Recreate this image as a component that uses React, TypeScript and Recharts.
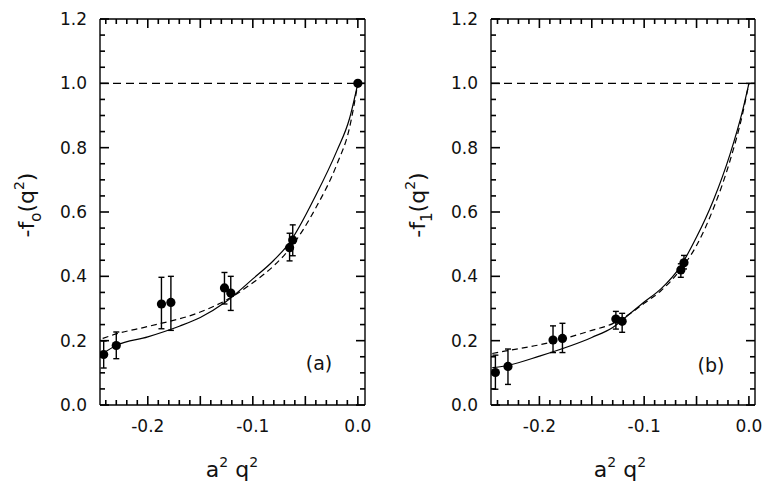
import React from "react";
import {
    ComposedChart,
    Line,
    Scatter,
    ErrorBar,
    XAxis,
    YAxis,
    ReferenceLine,
} from "recharts";

// measured points (shared a^2 q^2 values)
const qx = [-0.242, -0.23, -0.187, -0.178, -0.127, -0.121, -0.065, -0.062];

// panel (a): -f0(q^2), last point is the q^2 = 0 normalisation
const f0X = [...qx, 0];
const f0 = [0.157, 0.185, 0.314, 0.319, 0.364, 0.348, 0.489, 0.513, 1.0];
const f0Lo = [0.115, 0.144, 0.237, 0.232, 0.314, 0.294, 0.448, 0.464, 1.0];
const f0Hi = [0.199, 0.227, 0.397, 0.4, 0.412, 0.4, 0.534, 0.56, 1.0];

// panel (b): -f1(q^2)
const f1 = [0.101, 0.12, 0.202, 0.207, 0.267, 0.26, 0.42, 0.442];
const f1Lo = [0.049, 0.064, 0.163, 0.163, 0.236, 0.226, 0.397, 0.423];
const f1Hi = [0.155, 0.174, 0.246, 0.254, 0.291, 0.285, 0.439, 0.465];

// fit curves
const aSolidX = [-0.243, -0.23, -0.2, -0.17, -0.15, -0.126, -0.1, -0.08, -0.065, -0.04, -0.02, -0.008, 0];
const aSolidY = [0.16, 0.185, 0.212, 0.245, 0.272, 0.32, 0.392, 0.45, 0.505, 0.652, 0.79, 0.89, 1.0];
const aDashX = [-0.243, -0.23, -0.2, -0.15, -0.126, -0.1, -0.08, -0.065, -0.04, -0.02, -0.008, 0];
const aDashY = [0.207, 0.221, 0.244, 0.289, 0.325, 0.38, 0.433, 0.485, 0.613, 0.748, 0.861, 1.0];

const bSolidX = [-0.245, -0.232, -0.2, -0.15, -0.13, -0.114, -0.1, -0.084, -0.066, -0.05, -0.034, -0.018, -0.006, 0];
const bSolidY = [0.116, 0.122, 0.152, 0.21, 0.241, 0.283, 0.32, 0.361, 0.428, 0.522, 0.636, 0.78, 0.916, 1.0];
const bDashX = [-0.245, -0.232, -0.2, -0.15, -0.13, -0.114, -0.1, -0.084, -0.066, -0.05, -0.034, -0.018, -0.006, 0];
const bDashY = [0.16, 0.168, 0.187, 0.232, 0.253, 0.283, 0.316, 0.355, 0.418, 0.496, 0.61, 0.76, 0.906, 1.0];

// axis ticks
const xTicks = Array.from({ length: 25 }, (_, i) => +(-0.24 + i * 0.01).toFixed(2));
const yTicks = Array.from({ length: 25 }, (_, i) => +(i * 0.05).toFixed(2));
const xLabels = [-0.2, -0.1, 0.0];
const yLabels = [0, 0.2, 0.4, 0.6, 0.8, 1.0, 1.2];
const Y_MAX = 1.2;

const FONT = "DejaVu Sans";
const PLOT_H = 386;

const near = (a: number, b: number) => Math.abs(a - b) < 1e-6;
const onStep = (v: number, s: number) => near(Math.round(v / s) * s, v);

const pts = (xs: number[], ys: number[]) => xs.map((x, i) => ({ x, y: ys[i] }));
const withErr = (xs: number[], ys: number[], lo: number[], hi: number[]) =>
    xs.map((x, i) => ({ x, y: ys[i], err: [ys[i] - lo[i], hi[i] - ys[i]] }));

// labels only; the tick marks are drawn as reference segments inside the box
const makeLabel = (side: string) => (props: any) => {
    const x = Number(props.x);
    const y = Number(props.y);
    const v = Number(props.payload.value);
    if (side === "bottom" && xLabels.some((l) => near(l, v))) {
        return (
            <text x={x} y={y + 27} textAnchor="middle" fontSize={17} fontFamily={FONT} fill="#111">
                {v.toFixed(1)}
            </text>
        );
    }
    if (side === "left" && yLabels.some((l) => near(l, v))) {
        return (
            <text x={x - 13} y={y + 6} textAnchor="end" fontSize={17} fontFamily={FONT} fill="#111">
                {v.toFixed(1)}
            </text>
        );
    }
    return <g />;
};

const Dot = (props: any) => <circle cx={props.cx} cy={props.cy} r={4.6} fill="#000" />;

function tickSegments(domain: number[], plotW: number) {
    const dx = (domain[1] - domain[0]) / plotW;
    const dy = Y_MAX / PLOT_H;
    const segs: any[] = [];
    xTicks.forEach((v) => {
        const len = (onStep(v, 0.05) ? 9 : 5) * dy;
        segs.push([{ x: v, y: 0 }, { x: v, y: len }]);
        segs.push([{ x: v, y: Y_MAX }, { x: v, y: Y_MAX - len }]);
    });
    yTicks.forEach((v) => {
        const len = (onStep(v, 0.2) ? 9 : 5) * dx;
        segs.push([{ x: domain[0], y: v }, { x: domain[0] + len, y: v }]);
        segs.push([{ x: domain[1], y: v }, { x: domain[1] - len, y: v }]);
    });
    return segs;
}

// plotLeft / plotRight are the pixel edges of the box inside this chart
function Panel({ left, width, plotLeft, plotRight, domain, points, solid, dashed }: any) {
    const margin = { top: 9, right: width - plotRight - 10, bottom: 53, left: plotLeft - 40 };
    const line = { stroke: "#000", strokeWidth: 1.4 };
    const segs = tickSegments(domain, plotRight - plotLeft);
    return (
        <div style={{ position: "absolute", left, top: 0 }}>
            <ComposedChart width={width} height={488} margin={margin}>
                <XAxis xAxisId="b" dataKey="x" type="number" domain={domain} allowDataOverflow ticks={xTicks}
                    interval={0} height={30} tickSize={0} tickMargin={0} tickLine={false} axisLine={line}
                    tick={makeLabel("bottom")} />
                <XAxis xAxisId="t" orientation="top" dataKey="x" type="number" domain={domain} allowDataOverflow
                    ticks={xTicks} interval={0} height={10} tickSize={0} tickMargin={0} tickLine={false}
                    axisLine={line} tick={false} />
                <YAxis yAxisId="l" type="number" domain={[0, Y_MAX]} allowDataOverflow ticks={yTicks} interval={0}
                    width={40} tickSize={0} tickMargin={0} tickLine={false} axisLine={line}
                    tick={makeLabel("left")} />
                <YAxis yAxisId="r" orientation="right" type="number" domain={[0, Y_MAX]} allowDataOverflow
                    ticks={yTicks} interval={0} width={10} tickSize={0} tickMargin={0} tickLine={false}
                    axisLine={line} tick={false} />
                {segs.map((s, i) => (
                    <ReferenceLine key={`t${i}`} xAxisId="b" yAxisId="l" segment={s} stroke="#000"
                        strokeWidth={1.6} ifOverflow="visible" />
                ))}
                <ReferenceLine xAxisId="b" yAxisId="l" y={1} stroke="#000" strokeWidth={1.3} strokeDasharray="8 5" />
                <Line xAxisId="b" yAxisId="l" data={solid} dataKey="y" type="monotone" stroke="#000"
                    strokeWidth={1.2} dot={false} isAnimationActive={false} />
                <Line xAxisId="b" yAxisId="l" data={dashed} dataKey="y" type="monotone" stroke="#000"
                    strokeWidth={1.2} strokeDasharray="6 4" dot={false} isAnimationActive={false} />
                <Scatter xAxisId="b" yAxisId="l" data={points} dataKey="y" shape={Dot} isAnimationActive={false}>
                    <ErrorBar dataKey="err" direction="y" width={3} stroke="#000" strokeWidth={1.4}
                        isAnimationActive={false} />
                </Scatter>
            </ComposedChart>
        </div>
    );
}

function Titles({ cx, yTitleX, sub, tag, tagX, tagY }: any) {
    return (
        <g fontFamily={FONT} fill="#111">
            <text x={cx} y={477} textAnchor="middle" fontSize={22}>
                a<tspan fontSize={14} dy={-10}>2</tspan>
                <tspan dy={10}> q</tspan>
                <tspan fontSize={14} dy={-10}>2</tspan>
            </text>
            <text transform={`translate(${yTitleX},205) rotate(-90)`} textAnchor="middle" fontSize={22}>
                -f<tspan fontSize={15} dy={7}>{sub}</tspan>
                <tspan dy={-7}>(q</tspan>
                <tspan fontSize={14} dy={-10}>2</tspan>
                <tspan dy={10}>)</tspan>
            </text>
            <text x={tagX} y={tagY} textAnchor="middle" fontSize={19}>{tag}</text>
        </g>
    );
}

export default function App() {
    return (
        <div style={{ position: "absolute", left: 0, top: 0, width: 771, height: 488 }}>
            <svg width={771} height={488} style={{ position: "absolute", left: 0, top: 0 }}>
                <Titles cx={232} yTitleX={34} sub="o" tag="(a)" tagX={319} tagY={370} />
                <Titles cx={620} yTitleX={425} sub="1" tag="(b)" tagX={711} tagY={372} />
            </svg>
            <Panel left={0} width={385} plotLeft={100} plotRight={365}
                domain={[-0.2455, 0.0068]} points={withErr(f0X, f0, f0Lo, f0Hi)}
                solid={pts(aSolidX, aSolidY)} dashed={pts(aDashX, aDashY)} />
            <Panel left={385} width={386} plotLeft={106} plotRight={370}
                domain={[-0.2462, 0.0058]} points={withErr(qx, f1, f1Lo, f1Hi)}
                solid={pts(bSolidX, bSolidY)} dashed={pts(bDashX, bDashY)} />
        </div>
    );
}
